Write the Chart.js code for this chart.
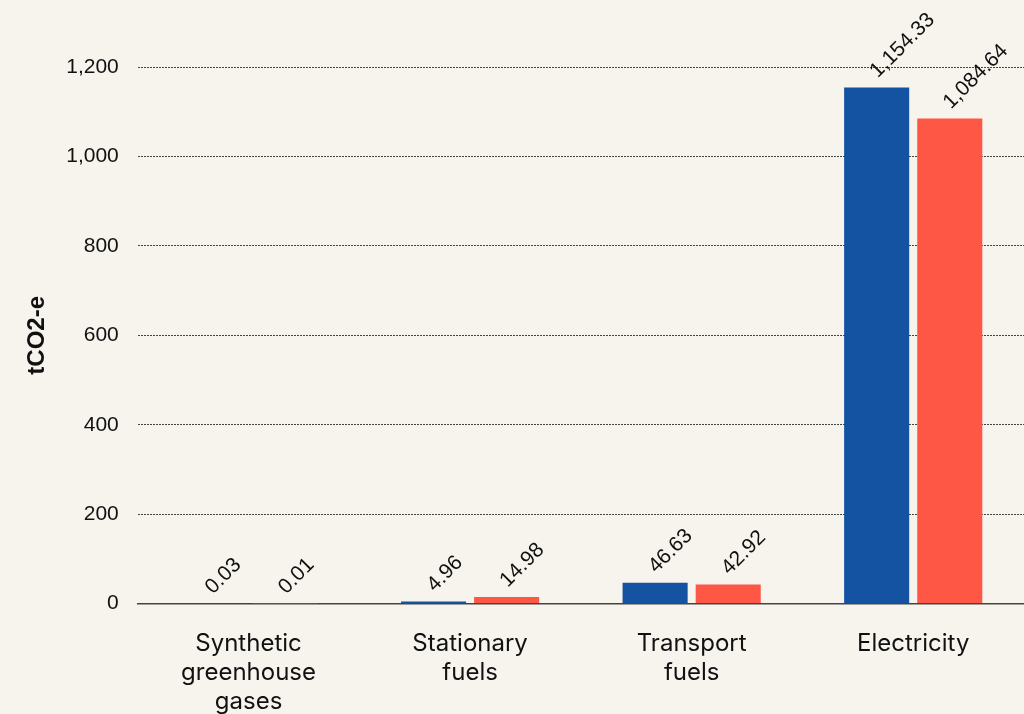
<!DOCTYPE html>
<html>
<head>
<meta charset="utf-8">
<script src="https://cdn.jsdelivr.net/npm/chart.js@4.4.1/dist/chart.umd.min.js"></script>
<style>
  html, body { margin: 0; padding: 0; background: #f7f4ee; }
  #wrap { width: 1024px; height: 714px; }
</style>
</head>
<body>
<div id="wrap"><canvas id="chartEmissoes"></canvas></div>
<script>
// dados
const categorias = [['Synthetic', 'greenhouse', 'gases'], ['Stationary', 'fuels'], ['Transport', 'fuels'], 'Electricity'];
const serieAzul = [0.03, 4.96, 46.63, 1154.33];
const serieVermelha = [0.01, 14.98, 42.92, 1084.64];
const ticksY = [0, 200, 400, 600, 800, 1000, 1200];

// rotulos rotacionados acima das barras (sem plugin externo)
const rotulosBarras = {
    id: 'rotulosBarras',
    afterDatasetsDraw(chart) {
        const ctx = chart.ctx;
        ctx.save();
        ctx.font = '21px "Liberation Sans", Arial, sans-serif';
        ctx.fillStyle = '#111';
        ctx.textAlign = 'left';
        ctx.textBaseline = 'middle';
        chart.data.datasets.forEach(function (ds, i) {
            chart.getDatasetMeta(i).data.forEach(function (bar, j) {
                var txt = ds.data[j].toLocaleString('en-US', { minimumFractionDigits: 2, maximumFractionDigits: 2 });
                ctx.save();
                ctx.translate(bar.x - 3, bar.y - 13);
                ctx.rotate(-Math.PI / 4);
                ctx.fillText(txt, 0, 0);
                ctx.restore();
            });
        });
        ctx.restore();
    }
};

new Chart(document.getElementById('chartEmissoes'), {
    type: 'bar',
    data: {
        labels: categorias,
        datasets: [
            { label: 'A', data: serieAzul, backgroundColor: '#1452a2', categoryPercentage: 0.66, barPercentage: 0.89 },
            { label: 'B', data: serieVermelha, backgroundColor: '#ff5745', categoryPercentage: 0.66, barPercentage: 0.89 }
        ]
    },
    options: {
        responsive: true, maintainAspectRatio: false, animation: false,
        layout: { padding: { top: 67, right: -4, left: 28, bottom: -28 } },
        plugins: { legend: { display: false }, tooltip: { enabled: false } },
        scales: {
            y: {
                min: 0, max: 1200,
                afterBuildTicks: function (axis) { axis.ticks = ticksY.map(v => ({ value: v })); },
                ticks: {
                    color: '#111', padding: 19,
                    font: { family: '"Liberation Sans", Arial, sans-serif', size: 21 },
                    callback: v => v.toLocaleString('en-US')
                },
                grid: { color: '#444', drawTicks: false, lineWidth: 1 },
                border: { display: false, dash: [2, 1] },
                title: { display: true, text: 'tCO2-e', color: '#111', padding: { top: 0, bottom: 0 },
                    font: { family: '"Liberation Sans", Arial, sans-serif', size: 24, weight: 'bold', lineHeight: 0.8 } }
            },
            x: {
                grid: { display: false, drawTicks: false },
                border: { display: true, color: '#444', width: 1.5 },
                ticks: { color: '#111', padding: 26, maxRotation: 0,
                    font: { family: 'Inter, sans-serif', size: 24, lineHeight: 1.2 } }
            }
        }
    },
    plugins: [rotulosBarras]
});
</script>
</body>
</html>
